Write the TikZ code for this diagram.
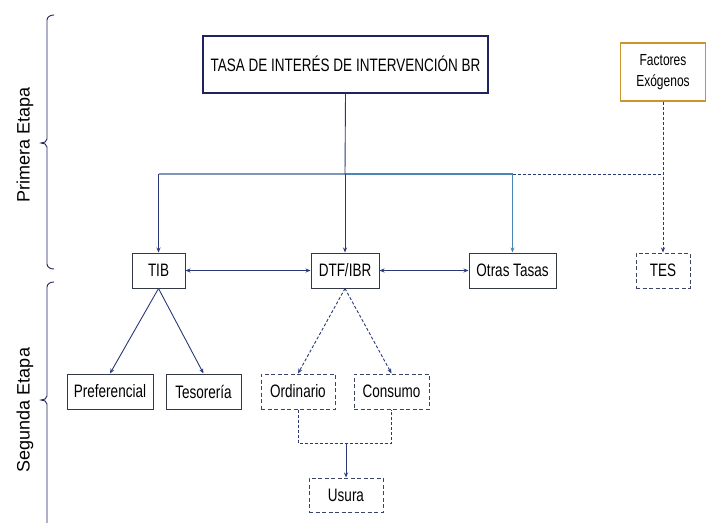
\documentclass[tikz,border=0pt]{standalone}
\usepackage{fontspec}
\setmainfont{Liberation Sans}[FakeStretch=0.75]
\newfontfamily\sidefont{Liberation Sans}
\usetikzlibrary{arrows.meta}
\definecolor{navy}{HTML}{1F2360}
\definecolor{boxline}{HTML}{333845}
\definecolor{dashline}{HTML}{3A4466}
\definecolor{arrowc}{HTML}{2A3878}
\definecolor{lightbus}{HTML}{7F96BA}
\definecolor{steelbus}{HTML}{4A86B4}
\definecolor{gold}{HTML}{C8962E}
\tikzset{
  x=1pt,y=-1pt,
  tip/.style={-{Stealth[length=5pt,width=4pt]}},
  dtip/.style={{Stealth[length=5pt,width=4pt]}-{Stealth[length=5pt,width=4pt]}},
  lbl/.style={font=\fontsize{18}{20}\selectfont, text=black, inner sep=0pt},
  solidbox/.style={lbl, draw=boxline, line width=1pt, rectangle, minimum height=35pt},
  dashbox/.style={solidbox, draw=dashline, dash pattern=on 4pt off 2.5pt},
  conn/.style={draw=arrowc, line width=0.9pt},
  dconn/.style={conn, dash pattern=on 3pt off 2pt},
  bracec/.style={draw=navy, line width=0.9pt},
  side/.style={font=\sidefont\fontsize{18}{20}\selectfont, rotate=90, text=black}
}
\begin{document}
\begin{tikzpicture}
\useasboundingbox (0,0) rectangle (712,522);
\fill[white] (0,0) rectangle (712,522);

% braces
\draw[bracec] (54,15) to[out=180,in=90] (47,20) -- (47,139) to[out=-90,in=0] (41,143) to[out=0,in=90] (47,147) -- (47,264) to[out=-90,in=180] (54,269);
\draw[bracec] (54,282) to[out=180,in=90] (47,287) -- (47,396) to[out=-90,in=0] (41,400) to[out=0,in=90] (47,404) -- (47,530);
\node[side] (pe) at (25,145) {Primera Etapa};
\node[side] (se) at (25,410) {Segunda Etapa};

% nodes
\node[solidbox, draw=navy, line width=2pt, minimum width=285pt, minimum height=57pt] (main) at (345.5,64) {TASA DE INTERÉS DE INTERVENCIÓN BR};
\node[solidbox, draw=gold, line width=1.2pt, minimum width=85pt, minimum height=58pt, align=center, font=\fontsize{16}{21}\selectfont] (fact) at (663,72) {Factores\\Exógenos};

\node[solidbox, minimum width=53pt] (tib) at (158.5,270.5) {TIB};
\node[solidbox, minimum width=68pt] (dtf) at (345,270.5) {DTF/IBR};
\node[solidbox, minimum width=87pt] (otras) at (512.5,270.5) {Otras Tasas};
\node[dashbox, minimum width=54pt] (tes) at (663,270.5) {TES};

\node[solidbox, minimum width=86pt] (pref) at (110,391.5) {Preferencial};
\node[solidbox, minimum width=75pt] (teso) at (203.5,391.5) {Tesorería};
\node[dashbox, minimum width=74pt] (ord) at (298,391.5) {Ordinario};
\node[dashbox, minimum width=75pt] (cons) at (391.5,391.5) {Consumo};
\node[dashbox, minimum width=74pt, minimum height=34pt] (usura) at (346,495) {Usura};

% bus coordinates
\coordinate (b1) at (158.5,174);
\coordinate (bm) at (345,174);
\coordinate (b3) at (512.5,174);
\coordinate (bf) at (663,174);
\coordinate (j1) at (298,443);
\coordinate (j2) at (391.5,443);
\coordinate (jm) at (346,443);

% first stage connectors
\draw[lightbus, line width=1.8pt] (b1) -- (bm);
\draw[steelbus, line width=1.8pt] (bm) -- (b3);
\draw[dconn] (b3) -- (bf);
\draw[conn] (main.south) -- (bm);
\draw[conn, tip] (bm) -- (dtf.north);
\draw[conn, tip] (b1) -- (tib.north);
\draw[conn, draw=steelbus, line width=1.3pt, tip] (b3) -- (otras.north);
\draw[dconn, tip] (fact.south) -- (tes.north);

\draw[conn, dtip] (tib.east) -- (dtf.west);
\draw[conn, dtip] (dtf.east) -- (otras.west);

% second stage connectors
\draw[conn, tip] (tib.south) -- (pref.north);
\draw[conn, tip] (tib.south) -- (teso.north);
\draw[dconn, tip] (dtf.south) -- (ord.north);
\draw[dconn, tip] (dtf.south) -- (cons.north);
\draw[dconn] (ord.south) -- (j1) -- (j2) -- (cons.south);
\draw[conn, tip] (jm) -- (usura.north);
\end{tikzpicture}
\end{document}
